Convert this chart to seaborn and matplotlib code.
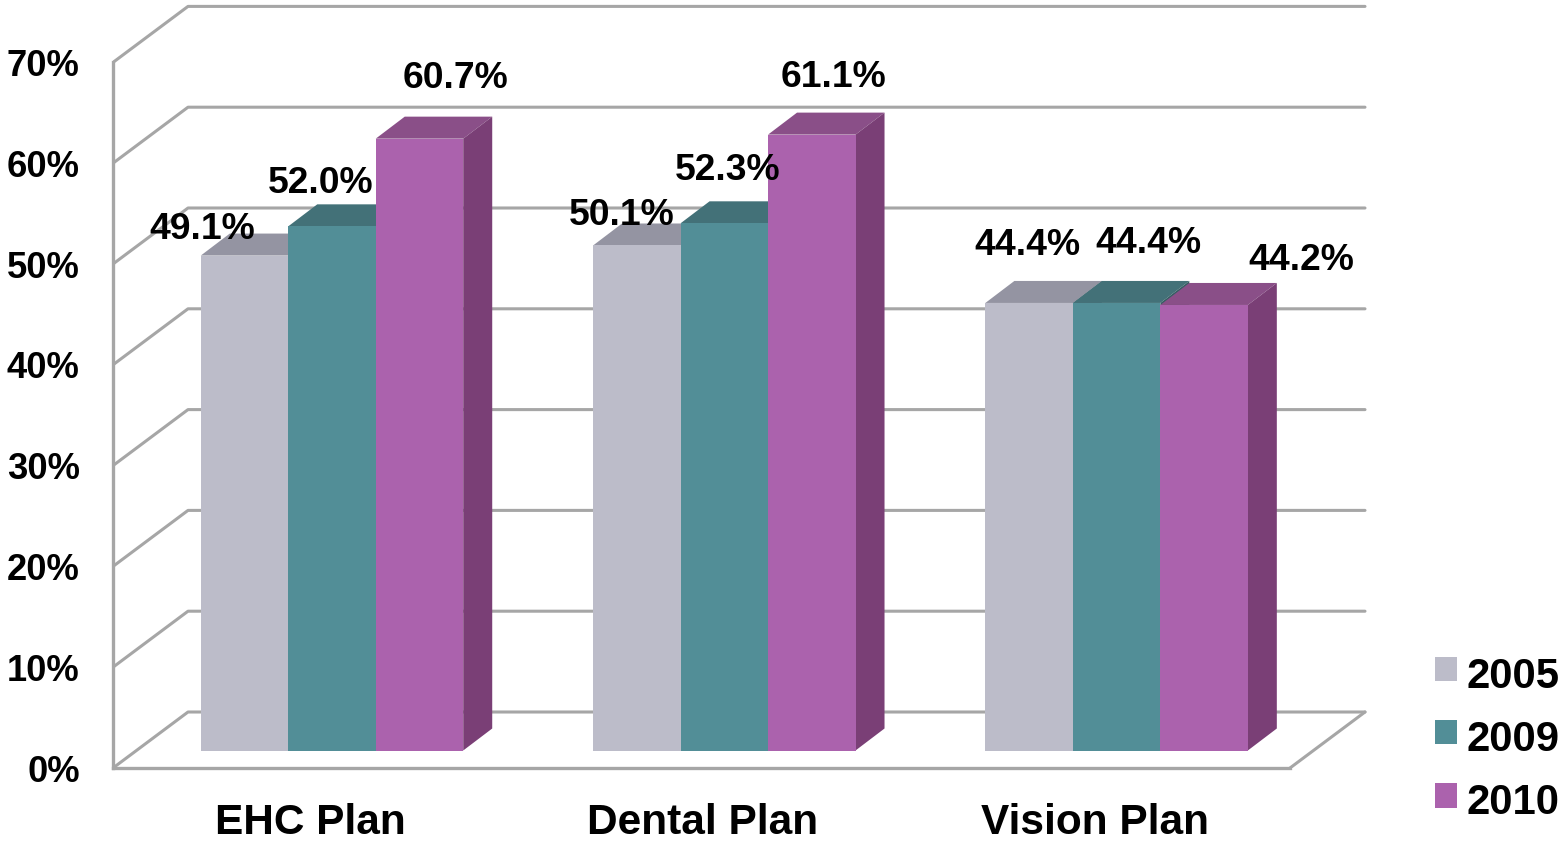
import matplotlib
matplotlib.use("Agg")
import matplotlib.pyplot as plt
from matplotlib.patches import Polygon
import pandas as pd
import seaborn as sns

categories = ["EHC Plan", "Dental Plan", "Vision Plan"]
years = ["2005", "2009", "2010"]
values_2005 = [49.1, 50.1, 44.4]
values_2009 = [52.0, 52.3, 44.4]
values_2010 = [60.7, 61.1, 44.2]
tick_values = [0, 10, 20, 30, 40, 50, 60, 70]
tick_labels = ["0%", "10%", "20%", "30%", "40%", "50%", "60%", "70%"]

front_colors = ["#BCBCC9", "#528E97", "#AB62AD"]
top_colors = ["#9494A2", "#437178", "#8A4F88"]
side_colors = ["#7C7C88", "#365E64", "#7A3F76"]
grid_color = "#A6A6A6"

W, H = 1564, 843
X0 = 332.0        # pixel of first group centre
XS = 392.3        # pixels per category
Y0 = 750.5        # pixel of bar baseline
YS = 10.08        # pixels per percent

def xd(px):
    return (px - X0) / XS

def yd(py):
    return (Y0 - py) / YS

sns.set_theme(style="white")
plt.rcParams["font.family"] = ["Liberation Sans", "DejaVu Sans"]
plt.rcParams["font.weight"] = "bold"
plt.rcParams["text.color"] = "black"
plt.rcParams["xtick.color"] = "black"
plt.rcParams["ytick.color"] = "black"

df = pd.DataFrame({
    "plan": categories * 3,
    "year": [y for y in years for _ in categories],
    "pct": values_2005 + values_2009 + values_2010,
})

fig = plt.figure(figsize=(W / 100, H / 100), dpi=100, facecolor="white")
ax = fig.add_axes([113 / W, (H - 768) / H, (W - 113) / W, 768 / H])
sns.barplot(data=df, x="plan", y="pct", hue="year", order=categories, hue_order=years,
            palette=front_colors, saturation=1, width=0.669, gap=0, dodge=True,
            errorbar=None, linewidth=0, ax=ax)
ax.set_xlim(xd(113), xd(W))
ax.set_ylim(yd(768), yd(0))
ax.patch.set_alpha(0)

# 3-D depth of the bars and of the walls
bar_dx, bar_dy = 29 / XS, 22 / YS
wall_front = yd(768)
wall_back = yd(712)
wall_x0, wall_x1, wall_x2 = xd(113), xd(188), xd(1365)
floor_front_right = xd(1290)

for i, container in enumerate(ax.containers):
    for patch in container:
        patch.set_zorder(3 + 2 * i)
        x, w, h = patch.get_x(), patch.get_width(), patch.get_height()
        top = [(x, h), (x + bar_dx, h + bar_dy), (x + w + bar_dx, h + bar_dy), (x + w, h)]
        side = [(x + w, 0), (x + w + bar_dx, bar_dy), (x + w + bar_dx, h + bar_dy), (x + w, h)]
        ax.add_patch(Polygon(top, closed=True, fc=top_colors[i], ec="none", zorder=2 + 2 * i))
        ax.add_patch(Polygon(side, closed=True, fc=side_colors[i], ec="none", zorder=2 + 2 * i))

line_kw = dict(color=grid_color, lw=2.2, solid_capstyle="round", zorder=1)
for v in tick_values:
    ax.plot([wall_x0, wall_x1, wall_x2],
            [v + wall_front, v + wall_back, v + wall_back], **line_kw)
ax.plot([wall_x2, floor_front_right], [wall_back, wall_front], **line_kw)

# axes decoration
for s in ("top", "right"):
    ax.spines[s].set_visible(False)
for s in ("left", "bottom"):
    ax.spines[s].set_color(grid_color)
    ax.spines[s].set_linewidth(2.4)
ax.spines["left"].set_bounds(wall_front, wall_front + tick_values[-1])
ax.spines["bottom"].set_bounds(wall_x0, floor_front_right)

ax.set_yticks([v + wall_front for v in tick_values], tick_labels)
ax.set_xticks([i - 22 / XS for i in range(len(categories))], categories)
ax.tick_params(axis="y", length=0, pad=24, labelsize=26.2)
ax.tick_params(axis="x", length=0, pad=25, labelsize=30.5)
ax.set_xlabel("")
ax.set_ylabel("")

# value labels: pixel offsets from the top-centre of each front face
offsets_by_year = [
    [(-42.5, 26), (-15.5, 30), (-2, 57)],   # 2005
    [(-11, 43), (3, 53), (32, 59)],         # 2009
    [(36, 60), (21.5, 57), (97, 44)],       # 2010
]
for i, container in enumerate(ax.containers):
    for j, patch in enumerate(container):
        cx = patch.get_x() + patch.get_width() / 2
        ax.annotate(f"{patch.get_height():.1f}%", (cx, patch.get_height()),
                    xytext=(offsets_by_year[i][j][0] * 0.72, offsets_by_year[i][j][1] * 0.72),
                    textcoords="offset points", ha="center", va="center",
                    fontsize=26.8, fontweight="bold", color="black", zorder=30,
                    annotation_clip=False)

handles, labels = ax.get_legend_handles_labels()
leg = ax.legend(handles, labels, loc="center left", bbox_to_anchor=(1418 / W, (H - 740) / H),
                bbox_transform=fig.transFigure, frameon=False, fontsize=30.2,
                handlelength=0.53, handleheight=0.53, handletextpad=0.234,
                labelspacing=0.55, borderpad=0.4, borderaxespad=0, title=None)
for h in leg.legend_handles:
    h.set_y(h.get_y() + 2.9)

fig.savefig("out.png", dpi=100)
